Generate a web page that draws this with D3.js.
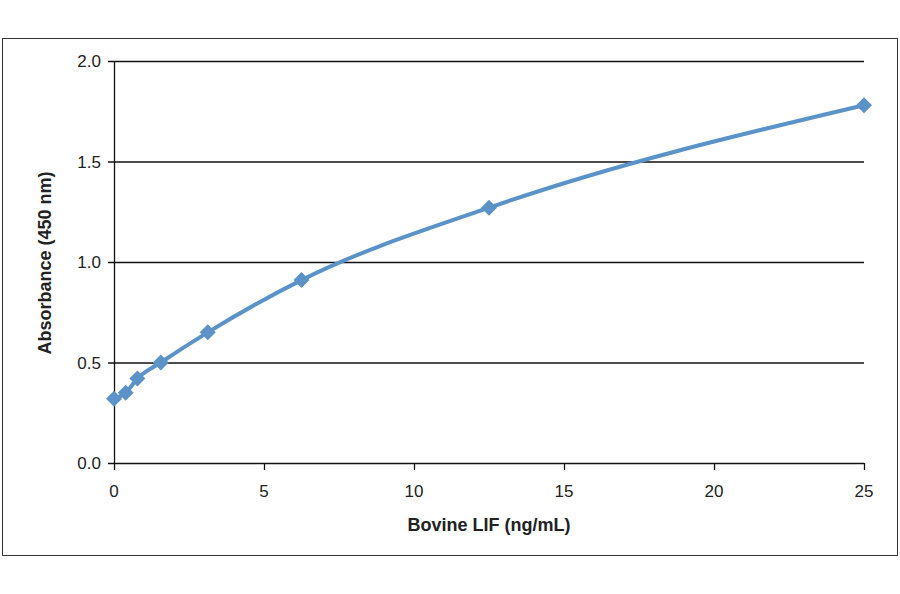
<!DOCTYPE html>
<html><head><meta charset="utf-8">
<script src="https://cdn.jsdelivr.net/npm/d3@7"></script>
<style>body{margin:0;background:#fff}svg{display:block}</style>
</head><body><svg width="900" height="594"></svg>
<script>
const concentrations=[0,0.39,0.78,1.56,3.125,6.25,12.5,25];
const absorbance=[0.32,0.35,0.42,0.50,0.65,0.91,1.27,1.78];
const xTicks=[0,5,10,15,20,25];
const yTicks=[0,0.5,1.0,1.5,2.0];
const xTitle="Bovine LIF (ng/mL)", yTitle="Absorbance  (450 nm)";
const svg=d3.select("svg");
svg.append("rect").attr("x",2.5).attr("y",38.5).attr("width",895).attr("height",517).attr("fill","none").attr("stroke","#333");
const x=d3.scaleLinear().domain([0,25]).range([114,864]);
const y=d3.scaleLinear().domain([0,2]).range([463,61]);
const g=svg.append("g");
const ff="Liberation Sans, Arial";
yTicks.forEach(t=>{
 g.append("line").attr("x1",108).attr("x2",864).attr("y1",y(t)+.5).attr("y2",y(t)+.5).attr("stroke","#111").attr("stroke-width",1.3);
 g.append("text").attr("x",101).attr("y",y(t)+6).attr("text-anchor","end").attr("font-family",ff).attr("font-size",17).attr("fill","#222").text(t.toFixed(1));
});
g.append("line").attr("x1",114.5).attr("x2",114.5).attr("y1",61).attr("y2",463).attr("stroke","#111").attr("stroke-width",1.3);
xTicks.forEach(t=>{
 g.append("line").attr("x1",x(t)+.5).attr("x2",x(t)+.5).attr("y1",463).attr("y2",470).attr("stroke","#111").attr("stroke-width",1.3);
 g.append("text").attr("x",x(t)).attr("y",497).attr("text-anchor","middle").attr("font-family",ff).attr("font-size",17).attr("fill","#222").text(t);
});
svg.append("text").attr("x",489).attr("y",531).attr("text-anchor","middle").attr("font-family",ff).attr("font-weight","bold").attr("font-size",18).attr("fill","#222").text(xTitle);
svg.append("text").attr("transform","translate(51,263) rotate(-90)").attr("text-anchor","middle").attr("font-family",ff).attr("font-weight","bold").attr("font-size",18).attr("fill","#222").text(yTitle);
const data=concentrations.map((c,i)=>[c,absorbance[i]]);
svg.append("path").datum(data).attr("d",d3.line().x(d=>x(d[0])).y(d=>y(d[1])).curve(d3.curveMonotoneX)).attr("fill","none").attr("stroke","#5b93c8").attr("stroke-width",4);
svg.selectAll(".m").data(data).enter().append("path").attr("d","M0,-8L8,0L0,8L-8,0Z").attr("transform",d=>`translate(${x(d[0])},${y(d[1])})`).attr("fill","#5b93c8");
</script></body></html>
